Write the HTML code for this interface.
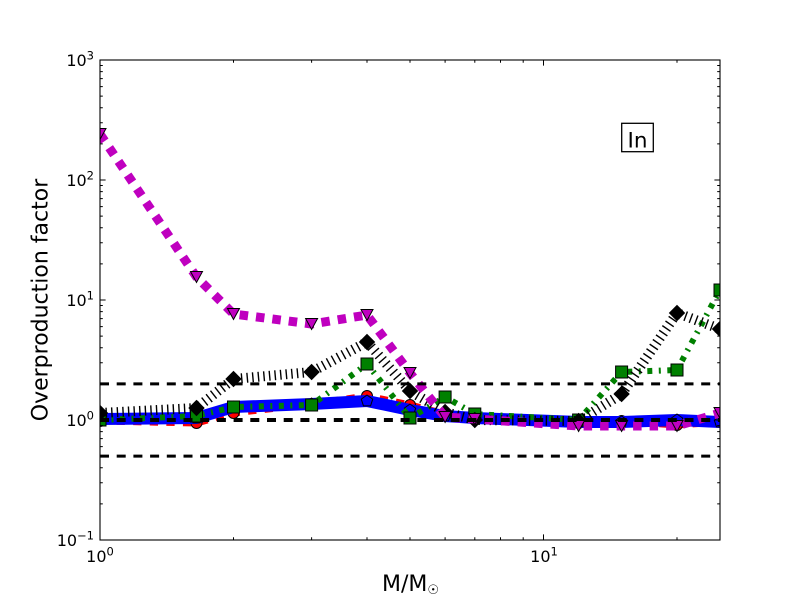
<!DOCTYPE html>
<html>
<head>
<meta charset="utf-8">
<style>
  html, body { margin:0; padding:0; background:#fff; }
  svg { display:block; }
  text { font-family: "DejaVu Sans", "Liberation Sans", sans-serif; fill:#000; }
</style>
</head>
<body>
<svg width="800" height="600" viewBox="0 0 800 600" xmlns="http://www.w3.org/2000/svg">
  <defs>
    <clipPath id="ax"><rect x="100" y="60" width="620" height="480"/></clipPath>
    <marker id="mpent" markerUnits="userSpaceOnUse" markerWidth="14" markerHeight="14" refX="7" refY="7" overflow="visible">
      <polygon points="7,1 12.71,5.15 10.53,11.85 3.47,11.85 1.29,5.15" fill="#0000ff" stroke="#000" stroke-width="1"/>
    </marker>
    <marker id="mcirc" markerUnits="userSpaceOnUse" markerWidth="14" markerHeight="14" refX="7" refY="7" overflow="visible">
      <circle cx="7" cy="7" r="5.5" fill="#ff0000" stroke="#000" stroke-width="1"/>
    </marker>
    <marker id="msq" markerUnits="userSpaceOnUse" markerWidth="14" markerHeight="14" refX="7" refY="7" overflow="visible">
      <rect x="1" y="1" width="12" height="12" fill="#008000" stroke="#000" stroke-width="1"/>
    </marker>
    <marker id="mdia" markerUnits="userSpaceOnUse" markerWidth="16" markerHeight="16" refX="8" refY="8" overflow="visible">
      <polygon points="8,0.5 15.5,8 8,15.5 0.5,8" fill="#000" stroke="#000" stroke-width="1"/>
    </marker>
    <marker id="mtri" markerUnits="userSpaceOnUse" markerWidth="14" markerHeight="14" refX="7" refY="7" overflow="visible">
      <polygon points="1,1.5 13,1.5 7,12.5" fill="#bf00bf" stroke="#000" stroke-width="1"/>
    </marker>
  </defs>

  <rect x="0" y="0" width="800" height="600" fill="#fff"/>

  <g clip-path="url(#ax)" fill="none" stroke-linejoin="round">
    <polyline points="100,421 196.5,423 233.5,413 311.6,404 367,396 410,405 445.1,414 474.8,418 578.6,423 621.6,421 677,425 720,422"
      stroke="#ff0000" stroke-width="7" stroke-dasharray="8.3 8.3"
      marker-start="url(#mcirc)" marker-mid="url(#mcirc)" marker-end="url(#mcirc)"/>
    <polyline points="100,419 196.5,418 233.5,407 311.6,404 367,401 410,410 445.1,416 474.8,418 578.6,422 621.6,422 677,420 720,422"
      stroke="#0000ff" stroke-width="12"
      marker-start="url(#mpent)" marker-mid="url(#mpent)" marker-end="url(#mpent)"/>
    <polyline points="100,420 196.5,416 233.5,407 311.6,405 367,364 410,418 445.1,397 474.8,414 578.6,420 621.6,372 677,370 720,290"
      stroke="#008000" stroke-width="6" stroke-dasharray="5 6.5 2 6.5"
      marker-start="url(#msq)" marker-mid="url(#msq)" marker-end="url(#msq)"/>
    <polyline points="100,413 196.5,408 233.5,379 311.6,372 367,342 410,391 445.1,412 474.8,420 578.6,421 621.6,394 677,313 720,329"
      stroke="#000" stroke-width="10" stroke-dasharray="1.4 4.2"
      marker-start="url(#mdia)" marker-mid="url(#mdia)" marker-end="url(#mdia)"/>
    <polyline points="100,134 196.5,277 233.5,314 311.6,324 367,315 410,373 445.1,417 474.8,419 578.6,426 621.6,426 677,426 720,413"
      stroke="#bf00bf" stroke-width="9" stroke-dasharray="8.5 8"
      marker-start="url(#mtri)" marker-mid="url(#mtri)" marker-end="url(#mtri)"/>
    <line x1="100" y1="383.9" x2="720" y2="383.9" stroke="#000" stroke-width="3" stroke-dasharray="9 7.7"/>
    <line x1="100" y1="420" x2="720" y2="420" stroke="#000" stroke-width="4" stroke-dasharray="9 7.7"/>
    <line x1="100" y1="456.1" x2="720" y2="456.1" stroke="#000" stroke-width="3" stroke-dasharray="9 7.7"/>
  </g>

  <g stroke="#000" stroke-width="1">
    <path d="M100,60h5.6M100,180h5.6M100,300h5.6M100,420h5.6M100,540h5.6
             M720,60h-5.6M720,180h-5.6M720,300h-5.6M720,420h-5.6M720,540h-5.6"/>
    <path d="
      M100,503.9h2.8M100,482.7h2.8M100,467.8h2.8M100,456.1h2.8M100,446.6h2.8M100,438.6h2.8M100,431.6h2.8M100,425.5h2.8
      M100,383.9h2.8M100,362.7h2.8M100,347.8h2.8M100,336.1h2.8M100,326.6h2.8M100,318.6h2.8M100,311.6h2.8M100,305.5h2.8
      M100,263.9h2.8M100,242.7h2.8M100,227.8h2.8M100,216.1h2.8M100,206.6h2.8M100,198.6h2.8M100,191.6h2.8M100,185.5h2.8
      M100,143.9h2.8M100,122.7h2.8M100,107.8h2.8M100,96.1h2.8M100,86.6h2.8M100,78.6h2.8M100,71.6h2.8M100,65.5h2.8
      M720,503.9h-2.8M720,482.7h-2.8M720,467.8h-2.8M720,456.1h-2.8M720,446.6h-2.8M720,438.6h-2.8M720,431.6h-2.8M720,425.5h-2.8
      M720,383.9h-2.8M720,362.7h-2.8M720,347.8h-2.8M720,336.1h-2.8M720,326.6h-2.8M720,318.6h-2.8M720,311.6h-2.8M720,305.5h-2.8
      M720,263.9h-2.8M720,242.7h-2.8M720,227.8h-2.8M720,216.1h-2.8M720,206.6h-2.8M720,198.6h-2.8M720,191.6h-2.8M720,185.5h-2.8
      M720,143.9h-2.8M720,122.7h-2.8M720,107.8h-2.8M720,96.1h-2.8M720,86.6h-2.8M720,78.6h-2.8M720,71.6h-2.8M720,65.5h-2.8"/>
    <path d="M100,540v-5.6M543.5,540v-5.6M100,60v5.6M543.5,60v5.6"/>
    <path d="
      M233.5,540v-2.8M311.6,540v-2.8M367,540v-2.8M410,540v-2.8M445.1,540v-2.8M474.8,540v-2.8M500.5,540v-2.8M523.2,540v-2.8M677,540v-2.8
      M233.5,60v2.8M311.6,60v2.8M367,60v2.8M410,60v2.8M445.1,60v2.8M474.8,60v2.8M500.5,60v2.8M523.2,60v2.8M677,60v2.8"/>
  </g>

  <rect x="100" y="60" width="620" height="480" fill="none" stroke="#000" stroke-width="1.1"/>

  <g font-size="16" text-anchor="end">
    <text x="94" y="66">10<tspan font-size="11.5" dy="-6.7">3</tspan></text>
    <text x="94" y="186">10<tspan font-size="11.5" dy="-6.7">2</tspan></text>
    <text x="94" y="306">10<tspan font-size="11.5" dy="-6.7">1</tspan></text>
    <text x="94" y="426">10<tspan font-size="11.5" dy="-6.7">0</tspan></text>
    <text x="94" y="546">10<tspan font-size="11.5" dy="-6.7">−1</tspan></text>
  </g>

  <g font-size="16" text-anchor="middle">
    <text x="100" y="562">10<tspan font-size="11.5" dy="-6.7">0</tspan></text>
    <text x="544" y="562">10<tspan font-size="11.5" dy="-6.7">1</tspan></text>
  </g>

  <text x="382" y="591" font-size="22">M/M<tspan font-size="13" dy="3">☉</tspan></text>
  <text transform="translate(47.5,300) rotate(-90)" font-size="22" text-anchor="middle">Overproduction factor</text>

  <rect x="621.7" y="123.3" width="31.6" height="28.4" fill="#fff" stroke="#000" stroke-width="1.3"/>
  <text x="637.5" y="147.3" font-size="21.5" text-anchor="middle">In</text>
</svg>
</body>
</html>
